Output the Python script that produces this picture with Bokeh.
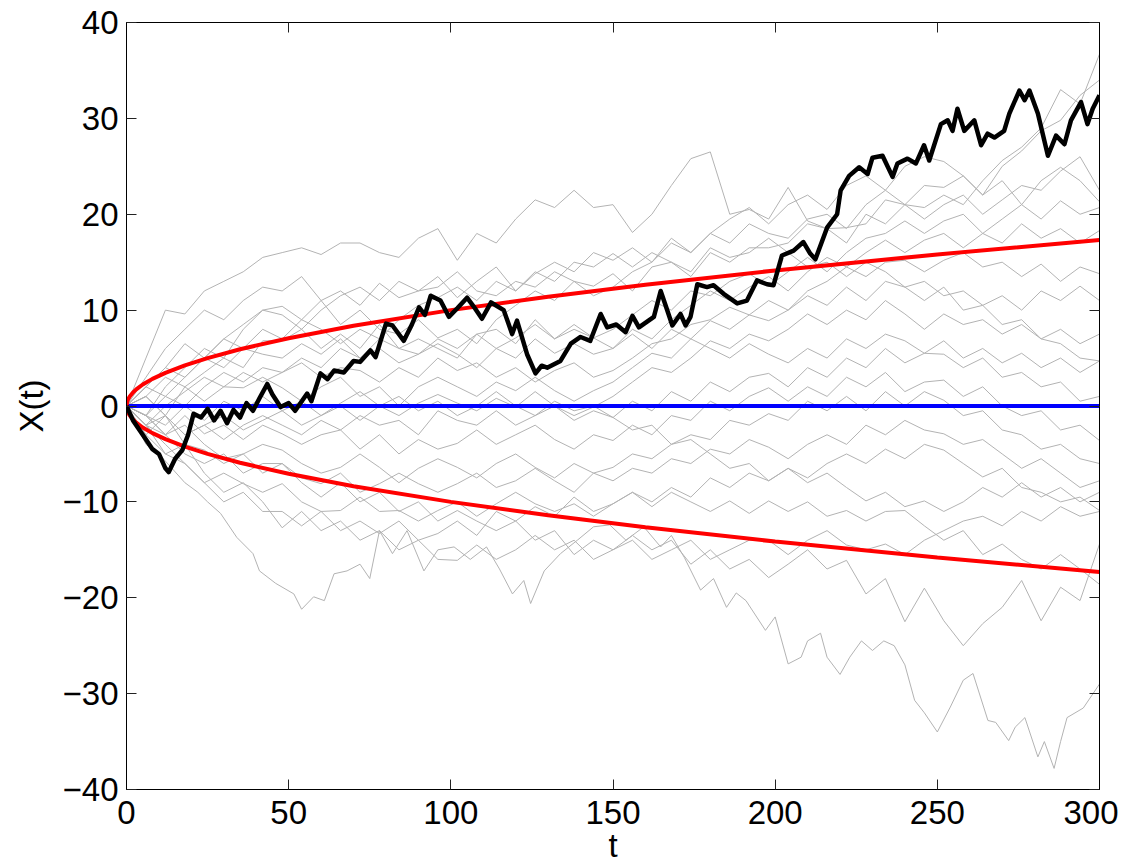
from bokeh.plotting import figure
from bokeh.models import Range1d, LinearAxis, FixedTicker
from bokeh.embed import file_html
from bokeh.resources import INLINE

# ---------------- data ----------------
# grey sample paths, sampled every 6 time units (t = 0, 6, ..., 300)
grid_t = list(range(0, 301, 6))

g01 = [0,5,10,9.6,12,13,14,15.5,16,16.5, 15.8,17,17,16,15.5,17.5,18.5,15.2,18,17,
       19.5,21.5,20.7,22.5,20.7,21,18.1,20,23,25.8, 26.5,20,20.5,19.5,22.8,19.3,18.5,18.6,19,21.5,
       21,19.5,21,22,20,21.5,23,22.5,24.5,26, 22.5]
g02 = [0,3,6,8,10,9,11,12.4,12,13.5, 11,12,10.5,12.8,11.3,12,13.5,11.3,13,14.5,
       12,13.8,15,14,16,15.2,16.5,15,17.5,16, 18,17,19,18,17.5,19.5,20,18.5,21,22.5,
       21,23,22.8,24,22,25,26.6,28.7,29.8,32.4, 34]
g03 = [0,2,4,6.5,5,7,8.5,10,10.4,9, 11,8.5,10,8,7.5,9,7.1,8,6.5,9,
       10.5,12,11,13,12.5,13.8,12,14.5,15,13.5, 16,15,16.5,16.5,17,19,18.5,17,20,19,
       21,20.7,22,21,23.5,25.6,27,29,33,31.5, 36.7]
g04 = [0,-1,2,4,6,5,8,10,9.5,8, 10,11.5,12.4,11,13,12,12.4,14,12,11.5,
       13,12.4,14,13,11.5,12.4,14,15,17,16, 18,19.5,20.7,19,21,22,20.5,23,24,22.5,
       25,26,25.5,24,22,23.5,21,23.5,24.9,23.5, 21.3]
g05 = [0,1,-1,2,3.5,5,4,6.8,6.8,8, 6,7.5,6,8.5,6,7,6,5,7.5,8,
       6.5,9,7,8.5,7.1,8,9.5,11,10,12, 11.5,13,13.8,12.5,14,15.5,14,16,17.5,18,
       19.3,18,19.3,20,18,19.5,21,19.5,21.4,20, 20.7]
g06 = [0,2,1,3,5,4,6,5.4,5,6.5, 5.4,7,5,6,4.5,5.4,6.5,5.4,4,6,
       5,7,5.5,6.5,5.4,6,8,7,9,10.5, 12,11,12.4,13.5,12,14,15.5,14.5,16,17.3,
       16,17.3,18,16.5,18,17,19,17.5,18.5,17, 18.3]
g07 = [0,-2,0,1.5,3,2,3.5,2.5,3.5,4.5, 3,4,3.7,2.5,4,3,5,3.7,4.5,3,
       4,2.5,3.7,4.5,3,3.7,5,6.5,7,8.5, 9,10.3,9.5,11,10,12,13,14.5,13.5,15,
       15.2,14,15.2,16,14.5,15,13.5,14.8,13,14.5, 13.8]
g08 = [0,1,3,2,0.5,2,1.9,3,1.9,0.5, 2,3,1,2,0,2,3,2,1,2.5,
       1.6,3,1.6,0.5,1.6,2.5,4,5.5,5,7, 8.9,8,9.5,8.9,10,11.5,10.5,12.4,11,13,
       12.4,11,12.4,10,10.5,8.5,9,7,6.5,5, 4.7]
g09 = [0,-1,-2,0,-1.5,0.5,-0.5,1,-0.5,0.5, -1,0.3,1.5,0,-1,0.3,1.2,0.3,-0.5,0.8,
       -0.1,1.5,0,-1,-0.1,1,2.5,4,3.5,5, 6.8,6,7.5,6.8,8,9.6,8.5,10,9,11,
       9.6,8,9.6,8.5,9,7.5,8.5,7,8,6.5, 7.5]
g10 = [0,1,-1,-3,-2,-3.5,-2,-1,-2, -3,-1.5,-2.5,-1,-2,-1.5,-3,-0.5,-1.5,
       -2,-0.5,-2,-1,0,-1.5,-0.5,-1.2, 0.5,-0.5,1.5,0.5,2.5,1.5,3,3.4,
       2,4,3,5,4,6,4.5,5.5,5.4, 4,5,3,3.5,2,2.5,0.5,1]
g11 = [0,-2,-3,-1,-2.9,-2,-3.5,-2,-2.9, -4,-3,-2.5,-4.5,-3,-5,-3.5,-4.5,-3.9,
       -2.5,-4,-3,-2,-3.5,-4.5,-3,-3.6, -2,-3,-1,-1.5,0.5,-0.5,1,1.9,
       0.5,2,1,3,2,3.5,1.5,2.5,2.7, 1,2,0,-1,-0.5,-2.5,-2,-3.6]
g12 = [0,-3,-1,-4,-4.6,-6,-5,-4,-4.6, -6,-7,-6.4,-5,-6.4,-8,-6.5,-5.5,-6.4,
       -7.5,-6,-5,-6.4,-7.5,-6,-7,-6.4, -5,-5.5,-4,-3,-3.5,-1.5,-2,-0.8,
       -1.5,0.5,-0.5,1,-0.5,1.5,0,1.5,0.6, -1,-0.5,-2.5,-3,-4.5,-4,-5.5,-6]
g13 = [0,-1,-3,-5,-6,-5,-7,-6,-6, -7.5,-8.1,-7,-9,-8.1,-7,-8.1,-9,-8.1,
       -7,-8.5,-7.8,-6.5,-7.8,-9,-7,-7.8, -6.5,-7,-5.5,-6,-4.5,-5,-3.5,-4.3,
       -5.5,-4,-3,-4,-2,-3,-1.5,-2.5,-2.9, -4,-3.5,-5,-6.5,-5.5,-7,-8.5,-7.8]
g14 = [0,-2,-4,-6,-8,-7,-8.1,-9,-8.1, -10,-11,-10.9,-9.5,-11,-10.9,-12,-10.9,-10,
       -11.5,-10.2,-9,-10.2,-11,-10.2,-11.5,-10.2, -9,-10,-8.5,-9.5,-7.5,-8.5,-7,-7.8,
       -6.5,-7.5,-6,-5,-6,-4.5,-5.5,-4,-4.6, -6,-7.4,-6.5,-8.5,-9,-10,-9.5,-10.9]
g15 = [0,-3,-5,-4,-7,-9,-8,-10,-12.7, -11,-13,-12,-14,-13,-15,-14,-16,-16.1,
       -14.5,-16,-15,-13.5,-15,-14,-16,-15, -13.5,-15,-14,-16.5,-15,-17,-16,-17.9,
       -16.5,-15,-17,-16.1,-19.6,-18,-22.5,-19,-22.4, -25,-22.7,-21,-18.2,-22.4,-18.9,-20.3,-14.4]
g16 = [0,-2,-5,-6,-8,-10,-9,-11,-11, -12.5,-11,-13,-12,-13.3,-12,-14,-13.3,-12,
       -13.5,-11,-12,-10.5,-11.5,-9.5,-11,-10.2, -9,-10.5,-9,-10,-11,-9.9,-11.2,-9.9,
       -11,-10,-11.5,-10.9,-12,-11,-10.9,-12.5,-14, -13,-15.5,-14.4,-16,-17,-15.5,-17,-18.6]
g17 = [0,2,4,3,5,7,6,8,7,9, 8,6.5,8,7,9,10.5,11.3,12.4,11,13,
       12,14,13,15,14.5,15.9,14.5,16,15,14, 16.5,15.5,16,17.5,16,14.5,15,13.5,15,14,
       12.4,13,11.5,12,10.5,11.5,10,12,11,12.5, 11]
g18 = [0,-1,1,0,2,3.5,2.5,4,3.5,5, 4,6,5,7,6,5.4,7,6,7.5,6,
       7.1,8.5,7,8,7.1,6,7.5,6,8,7, 6,5,6.5,5.4,4.5,6,5,7,6,7.5,
       6.8,5.5,6.8,5,6,4.5,5.5,4,5,3.5, 4.7]
g19 = [0,-2,-1,-3,-2,-1,-2.5,-1.5,-0.5, -2,-1,0,-1.5,0,1,-0.5,0.5,-1,
       0,1.5,0,-1,0.5,-0.5,0,-1.2, -2.5,-2,-4,-3.5,-5,-6.5,-6,-7.8,
       -6.5,-8,-7,-8.5,-9.9,-9,-10.5,-9.9,-11, -10,-8.5,-9.5,-8,-9.5,-8.5,-10,-9]
g20 = [0,-1,-3,-2,-4,-5.5,-5,-7,-6, -8,-9.5,-8,-10,-9,-11,-10,-12,-10.9,
       -12,-13,-12,-14,-13,-15.5,-14,-15, -14,-16,-15,-14,-16,-15,-14,-14,
       -15.5,-14,-13,-14.5,-15,-14.4,-15.5,-14,-13, -12,-11.5,-12.5,-11,-12,-10.5,-11.5,-11]

# lowest grey path (own time points)
low_t = [0,3,6,10,14,18,22,25,29,34, 39,41,46,51.6,54,57.7,61,64,68,72,
         75,78,82,86.5,91.7,96,101,106,111,115, 119,122.5,124.6,128.8,133.8,139,144,149,154,159.5,
         164.7,168,172,177,181,185,188,191,197,200, 204,208,210,214,216,220,223,226.6,230,233.5,
         236.7,240,243,246,250,254,258,261,265.6,268, 272,274,277,281,283,286,288,290,295,300]
low_x = [0,-2,-4,-5,-6.5,-8,-9,-10,-11.2,-13.7, -15.4,-17.2,-18.5,-19.6,-21.2,-19.9,-20.3,-17.5,-17.2,-16.5,
         -18,-13,-15.4,-13,-17.2,-15,-14.7,-16,-14.7,-17, -19.6,-18.2,-20.6,-17.2,-15.4,-14,-12.6,-12.4,-14,-12.6,
         -14.7,-13.5,-15.8,-19.2,-18,-21,-19.5,-20.3,-23.4,-22, -26.9,-26.2,-24.5,-23.7,-26.2,-28,-26.2,-24.5,-25.5,-24.5,
         -25,-27,-30.7,-32,-34,-31.4,-28.6,-27.9,-32.8,-33, -34.9,-33.5,-32.5,-36.6,-35,-37.8,-35,-32.5,-31.5,-29]

# highlighted path (black)
black_t = [0,2,4,6,8,10,12,13,15,17.2, 19,20.7,23,25,27,29,31,33,35,37,
           39,41,43.4,45,47.5,50,52,55.7,57,59.8, 62,64,67,70,72,75.2,76.8,80,82,85.5,
           88,90.2,92,93.8,96.8,99.4,102,105,107,109.6, 112.4,116.3,118.9,120.4,123.5,126.1,128,129.7,133.8,137,
           140,143,146.2,148.2,151,153.9,156,158,162.6,164.7, 166.2,168.3,170.8,172.4,173.9,176,179,181,184.1,188.3,
           191.3,194.4,197.5,199.5,202.1,205.7,208.7,210.8,212.4,216, 219.1,220.2,222.8,225.9,228.5,230,233.1,236.2,237.7,240.8,
           243.4,245.9,247.5,251.1,253.2,254.7,256.2,258.3,261.4,263.5, 265.5,267.6,270.6,272.2,275.3,276.9,278.4,281,284.1,286.6,
           289.2,291.2,294.3,296.3,297.9,300]
black_x = [0,-1.5,-2.5,-3.5,-4.5,-5,-6.5,-6.9,-5.5,-4.6, -3,-0.8,-1.2,-0.3,-1.5,-0.5,-1.8,-0.4,-1.2,0.3,
           -0.5,0.8,2.3,1.2,-0.1,0.3,-0.5,1.3,0.5,3.4, 2.8,3.7,3.5,4.7,4.6,5.8,5.1,8.6,8.4,6.8,
           8.5,10.3,9.5,11.5,11.0,9.3,10.2,11.3,10.4,9.1, 10.8,10.0,7.5,8.9,5.4,3.4,4.2,4.0,4.7,6.5,
           7.2,6.8,9.6,8.2,8.5,7.7,9.4,8.2,9.3,12.0, 10.5,8.4,9.6,8.4,9.3,12.7,12.4,12.6,11.7,10.7,
           11.0,13.1,12.7,12.6,15.7,16.2,17.1,15.9,15.3,18.6, 20.0,22.5,24.0,24.9,24.2,25.9,26.1,23.9,25.3,25.8,
           25.3,27.2,25.6,29.4,29.8,28.7,31.0,28.7,29.8,27.2, 28.4,28.0,28.7,30.5,32.9,31.9,32.9,30.5,26.1,28.2,
           27.3,29.8,31.7,29.4,31.0,32.4]

# mean (blue) and +/- one standard deviation envelope (red)
mean_t = [0, 300]
mean_x = [0, 0]
env_t = [0, 0.25, 0.5, 1, 2, 3, 5, 8, 12, 18, 25, 35, 50, 70, 100, 130, 160, 200, 250, 300]
env_up = [0, 0.5, 0.71, 1, 1.41, 1.73, 2.24, 2.83, 3.46, 4.24, 5, 5.92, 7.07, 8.37, 10, 11.4, 12.65, 14.14, 15.81, 17.32]
env_dn = [-v for v in env_up]

x_ticks = [0, 50, 100, 150, 200, 250, 300]
y_ticks = [-40, -30, -20, -10, 0, 10, 20, 30, 40]
y_tick_labels = {v: (("\u2212" + str(-v)) if v < 0 else str(v)) for v in y_ticks}

grey_paths = [g01, g02, g03, g04, g05, g06, g07, g08, g09, g10,
              g11, g12, g13, g14, g15, g16, g17, g18, g19, g20]

# ---------------- figure ----------------
FONT = "Liberation Sans"
p = figure(frame_width=973, frame_height=767,
           x_range=Range1d(0, 300), y_range=Range1d(-40, 40),
           output_backend="svg", toolbar_location=None,
           min_border_left=126, min_border_right=19,
           min_border_top=22, min_border_bottom=70,
           background_fill_color="white", border_fill_color="white")
p.grid.visible = False
p.outline_line_color = "black"
p.outline_line_width = 1

for g in grey_paths:
    p.line(grid_t[:len(g)], g, line_color="#b3b3b3", line_width=1)
p.line(low_t, low_x, line_color="#b3b3b3", line_width=1)

p.line(mean_t, mean_x, line_color="#0000ff", line_width=4)
p.line(env_t, env_up, line_color="#ff0000", line_width=4)
p.line(env_t, env_dn, line_color="#ff0000", line_width=4)
p.line(black_t, black_x, line_color="black", line_width=4.5, line_join="round")

def style(ax, show_labels):
    ax.axis_line_color = "black"
    ax.axis_line_width = 1
    ax.major_tick_in = 10
    ax.major_tick_out = 0
    ax.major_tick_line_color = "#222222"
    ax.minor_tick_line_color = None
    ax.major_label_text_font = FONT
    ax.major_label_text_font_size = "33px" if show_labels else "1px"
    ax.major_label_text_color = "black" if show_labels else None
    ax.axis_label_text_font = FONT
    ax.axis_label_text_font_size = "33px"
    ax.axis_label_text_font_style = "normal"
    ax.axis_label_text_color = "black"

xa = p.xaxis[0]
xa.ticker = FixedTicker(ticks=x_ticks)
xa.axis_label = "t"
xa.major_label_standoff = 11
xa.axis_label_standoff = 0
style(xa, True)

ya = p.yaxis[0]
ya.ticker = FixedTicker(ticks=y_ticks)
ya.major_label_overrides = y_tick_labels
ya.axis_label = "X(t)"
ya.major_label_standoff = 8
ya.axis_label_standoff = 10
style(ya, True)

top = LinearAxis(ticker=FixedTicker(ticks=x_ticks))
style(top, False)
top.major_label_standoff = 0
p.add_layout(top, "above")
right = LinearAxis(ticker=FixedTicker(ticks=y_ticks))
style(right, False)
right.major_label_standoff = 0
p.add_layout(right, "right")

open("out.html", "w").write(file_html(p, INLINE))
